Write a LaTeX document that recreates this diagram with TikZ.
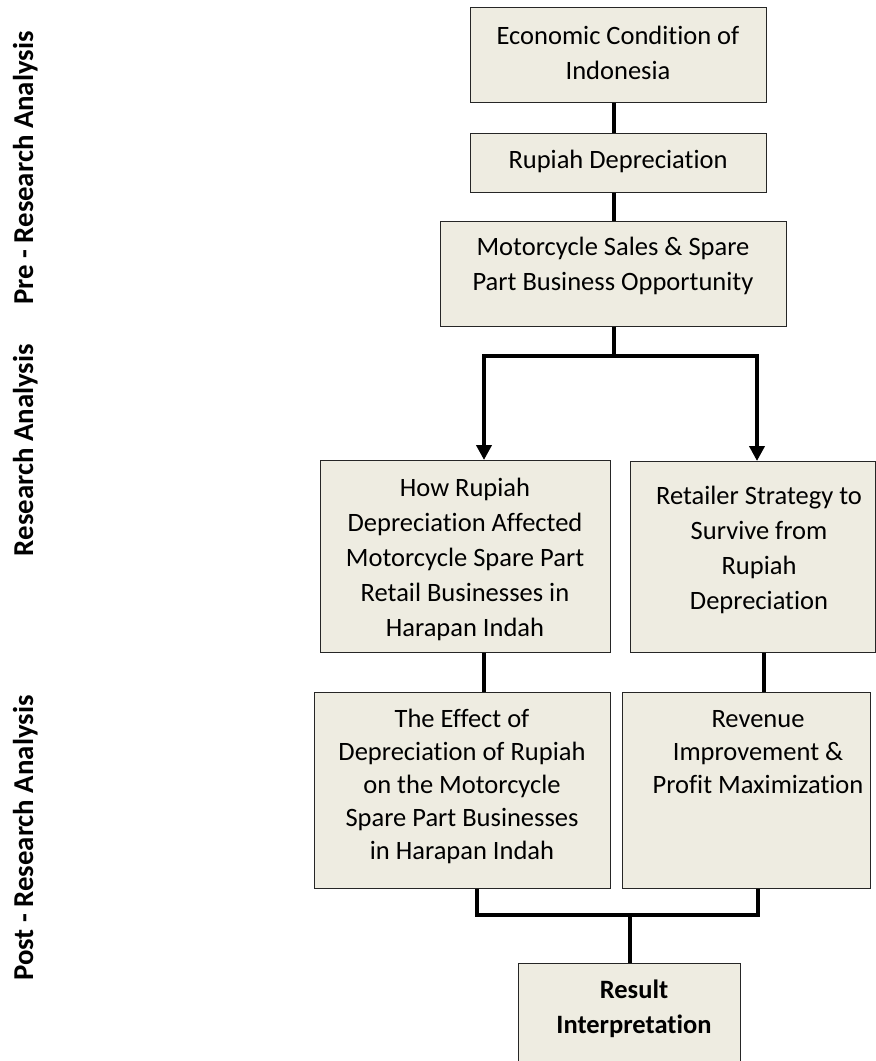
\documentclass[tikz,border=0pt]{standalone}
\usepackage{fontspec}
\setmainfont{Carlito}[Ligatures=NoCommon]
\usetikzlibrary{arrows.meta}
\definecolor{boxfill}{HTML}{EEECE1}
\begin{document}
\begin{tikzpicture}[x=1pt,y=-1pt,
  box/.style={draw=black!85, line width=1.3pt, fill=boxfill, inner sep=0pt, anchor=north west},
  txt/.style={inner sep=0pt, anchor=base, font=\fontsize{26.5}{35}\selectfont},
  txtb/.style={txt, font=\fontsize{26.5}{33}\selectfont},
  conn/.style={line width=4pt, black},
  tip/.style={arrows={Triangle[width=15pt,length=15pt]-Triangle[width=15pt,length=15pt]}},
  lab/.style={inner sep=0pt, anchor=base, rotate=90, font=\fontsize{28.8}{34}\selectfont\bfseries}]
\useasboundingbox (0,0) rectangle (876,1061);

% boxes
\node[box, minimum width=296pt, minimum height=95pt]  (b1) at (470,7) {};
\node[box, minimum width=296pt, minimum height=59pt]  (b2) at (470,133) {};
\node[box, minimum width=346pt, minimum height=105pt] (b3) at (440,221) {};
\node[box, minimum width=290pt, minimum height=192pt] (b4) at (320,460) {};
\node[box, minimum width=245pt, minimum height=191pt] (b5) at (630,461) {};
\node[box, minimum width=296pt, minimum height=196pt] (b6) at (314,692) {};
\node[box, minimum width=248pt, minimum height=196pt] (b7) at (622,692) {};
\node[box, minimum width=222pt, minimum height=101pt] (res) at (518,963) {};

% texts
\node[txt] (t1) at (618,44) {\begin{tabular}[t]{@{}c@{}}Economic Condition of\\Indonesia\end{tabular}};
\node[txt] (t2) at (618,168) {Rupiah Depreciation};
\node[txt] (t3) at (613,255) {\begin{tabular}[t]{@{}c@{}}Motorcycle Sales \& Spare\\Part Business Opportunity\end{tabular}};
\node[txt] (t4) at (465,496) {\begin{tabular}[t]{@{}c@{}}How Rupiah\\Depreciation Affected\\Motorcycle Spare Part\\Retail Businesses in\\Harapan Indah\end{tabular}};
\node[txt] (t5) at (759,504) {\begin{tabular}[t]{@{}c@{}}Retailer Strategy to\\Survive from\\Rupiah\\Depreciation\end{tabular}};
\node[txtb] (t6) at (462,727) {\begin{tabular}[t]{@{}c@{}}The Effect of\\Depreciation of Rupiah\\on the Motorcycle\\Spare Part Businesses\\in Harapan Indah\end{tabular}};
\node[txtb] (t7) at (758,727) {\begin{tabular}[t]{@{}c@{}}Revenue\\Improvement \&\\Profit Maximization\end{tabular}};
\node[txt] (tr) at (634,998) {\bfseries\begin{tabular}[t]{@{}c@{}}Result\\Interpretation\end{tabular}};

% side labels
\node[lab] (l1) at (33,168) {Pre - Research Analysis};
\node[lab] (l2) at (33,450) {Research Analysis};
\node[lab] (l3) at (33,838) {Post - Research Analysis};

% connectors
\coordinate (c12) at (614,0);
\coordinate (jl) at (484,356);
\coordinate (jr) at (757,356);
\coordinate (c46) at (484,0);
\coordinate (c57) at (764,0);
\coordinate (ml) at (477,915);
\coordinate (mr) at (758,915);

\draw[conn] (b1.south -| c12) -- (b2.north -| c12);
\draw[conn] (b2.south -| b3.north) -- (b3.north);
\draw[conn] (b3.south) -- (b3.south |- jl);
\draw[conn, tip] (b4.north -| jl) -- (jl) -- (jr) -- (b5.north -| jr);
\draw[conn] (b4.south -| c46) -- (b6.north -| c46);
\draw[conn] (b5.south -| c57) -- (b7.north -| c57);
\draw[conn] (b6.south -| ml) -- (ml) -- (mr) -- (b7.south -| mr);
\draw[conn] (res.north |- ml) -- (res.north);
\end{tikzpicture}
\end{document}
